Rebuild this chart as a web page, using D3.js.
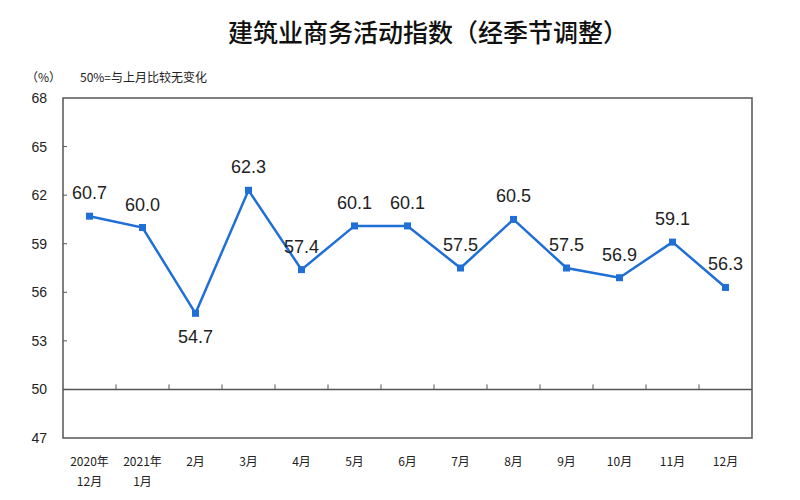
<!DOCTYPE html>
<html><head><meta charset="utf-8">
<script src="https://cdn.jsdelivr.net/npm/d3@7"></script>
<style>body{margin:0;background:#fff}</style></head>
<body><svg id="c" width="800" height="500"></svg>
<script>
const categories = [["2020年","12月"],["2021年","1月"],["2月"],["3月"],["4月"],["5月"],["6月"],["7月"],["8月"],["9月"],["10月"],["11月"],["12月"]];
const values = [60.7,60.0,54.7,62.3,57.4,60.1,60.1,57.5,60.5,57.5,56.9,59.1,56.3];
const yTicks = [47,50,53,56,59,62,65,68];
const labelBelow = [false,false,true,false,false,false,false,false,false,false,false,false,false];

const svg = d3.select("#c");
const L=63,R=752,T=98,B=438;
const x = d3.scaleBand().domain(d3.range(values.length)).range([L,R]);
const y = d3.scaleLinear().domain([47,68]).range([B,T]);
const col="#1f6fd6";

svg.append("text").attr("x",428).attr("y",42).attr("text-anchor","middle").attr("font-weight",500)
 .attr("font-family","Noto Sans CJK SC").attr("font-size",25).attr("fill","#111").text("建筑业商务活动指数（经季节调整）");
svg.append("text").attr("x",26).attr("y",82).attr("font-family","Noto Sans CJK SC").attr("font-size",12).attr("fill","#222").text("（%）");
svg.append("text").attr("x",80).attr("y",82).attr("font-family","Noto Sans CJK SC").attr("font-size",12).attr("fill","#222").text("50%=与上月比较无变化");

svg.append("rect").attr("x",L).attr("y",T).attr("width",R-L).attr("height",B-T).attr("fill","none").attr("stroke","#555").attr("stroke-width",1.5);
yTicks.forEach(t=>{
  svg.append("text").attr("x",47).attr("y",y(t)+5).attr("text-anchor","end").attr("font-family","Liberation Sans, Arial").attr("font-size",14).attr("fill","#222").text(t);
  if(t>47&&t<68) svg.append("line").attr("x1",L).attr("x2",L+4).attr("y1",y(t)).attr("y2",y(t)).attr("stroke","#555");
});
svg.append("line").attr("x1",L).attr("x2",R).attr("y1",y(50)).attr("y2",y(50)).attr("stroke","#555").attr("stroke-width",1.5);
d3.range(1,values.length).forEach(i=>{
  svg.append("line").attr("x1",x(i)).attr("x2",x(i)).attr("y1",y(50)).attr("y2",y(50)-5).attr("stroke","#555").attr("stroke-width",1);
});
categories.forEach((c,i)=>{
  c.forEach((s,j)=>svg.append("text").attr("x",x(i)+x.bandwidth()/2).attr("y",466+j*20).attr("text-anchor","middle")
   .attr("font-family","Noto Sans CJK SC").attr("font-size",12).attr("fill","#222").text(s));
});
const cx=i=>x(i)+x.bandwidth()/2;
svg.append("path").datum(values).attr("fill","none").attr("stroke",col).attr("stroke-width",2.5)
 .attr("d",d3.line().x((d,i)=>cx(i)).y(d=>y(d)));
svg.selectAll(".m").data(values).enter().append("rect").attr("x",(d,i)=>cx(i)-3.5).attr("y",d=>y(d)-3.5).attr("width",7).attr("height",7).attr("fill",col);
svg.selectAll(".l").data(values).enter().append("text").attr("x",(d,i)=>cx(i)).attr("y",(d,i)=>labelBelow[i]?y(d)+30:y(d)-17)
 .attr("text-anchor","middle").attr("font-family","Liberation Sans, Arial").attr("font-size",18).attr("fill","#222").text(d=>d.toFixed(1));
</script></body></html>
